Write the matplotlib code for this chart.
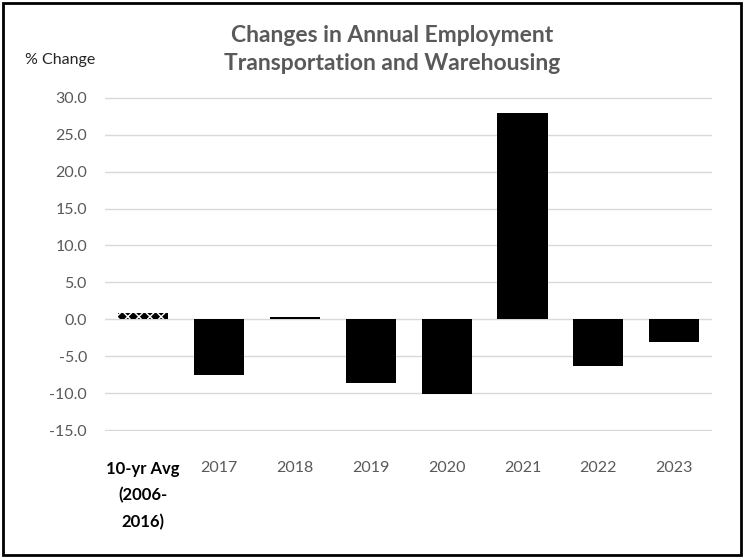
"""
Changes in Annual Employment - Transportation and Warehousing
"""
import matplotlib.pyplot as plt
from matplotlib.patches import Rectangle

plt.rcParams['font.family'] = ['Lato', 'DejaVu Sans']

# Data
categories = ['10-yr Avg\n(2006-\n2016)', '2017', '2018', '2019', '2020', '2021', '2022', '2023']
pct_change = [0.8, -7.6, 0.3, -8.6, -10.1, 28.0, -6.3, -3.1]
y_ticks = [-15, -10, -5, 0, 5, 10, 15, 20, 25, 30]

fig = plt.figure(figsize=(7.45, 5.58), dpi=100)
ax = fig.add_axes([0.141, 0.228, 0.815, 0.598])

x = list(range(len(categories)))
bars = ax.bar(x, pct_change, width=0.66, color='black', zorder=3)
# 10-yr average bar is patterned
bars[0].set_hatch('xxx')
bars[0].set_edgecolor('white')
bars[0].set_linewidth(0)

ax.set_ylim(-15.1, 30.1)
ax.set_xlim(-0.5, len(categories) - 0.5)
ax.set_yticks(y_ticks)
ax.set_yticklabels([f'{v:.1f}' for v in y_ticks], fontsize=11.5, color='#595959')
ax.grid(axis='y', color='#d9d9d9', linewidth=1, zorder=0)
for s in ax.spines.values():
    s.set_visible(False)
ax.tick_params(axis='both', length=0)
ax.tick_params(axis='y', pad=13)

ax.set_xticks(x)
ax.set_xticklabels(categories, fontsize=11.5, color='#595959', va='top')
ax.tick_params(axis='x', pad=22)
first = ax.get_xticklabels()[0]
first.set_fontweight('bold')
first.set_color('black')
first.set_fontsize(12)
first.set_linespacing(1.75)

fig.text(0.527, 0.955, 'Changes in Annual Employment\nTransportation and Warehousing',
         ha='center', va='top', fontsize=16.5, fontweight='bold', color='#595959',
         linespacing=1.4)
fig.text(0.034, 0.892, '% Change', ha='left', va='center', fontsize=11.5, color='#262626')

# outer border
fig.patches.append(Rectangle((0.004, 0.005), 0.991, 0.99, transform=fig.transFigure,
                             fill=False, edgecolor='black', linewidth=2))

plt.savefig('out.png', dpi=100)
plt.close()
